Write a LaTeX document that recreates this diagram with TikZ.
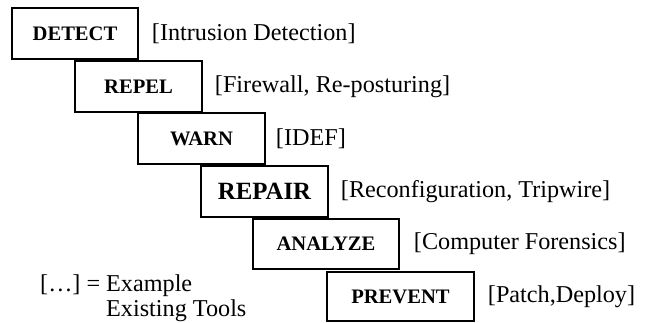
\documentclass[tikz,border=0pt]{standalone}
\usepackage{fontspec}
\setmainfont{Liberation Serif}
\begin{document}
\begin{tikzpicture}[x=1pt,y=-1pt,
  stagebox/.style={draw,line width=1.5pt,inner sep=0pt,
    font=\fontsize{20.6}{24}\selectfont\bfseries},
  toollabel/.style={anchor=west,inner sep=0pt,
    font=\fontsize{24.2}{29}\selectfont},
  legendtext/.style={anchor=base west,inner sep=0pt,
    font=\fontsize{24.2}{29}\selectfont}]
\useasboundingbox (0,0) rectangle (645,322);

% staircase of defence stages
\node[stagebox,minimum width=126pt,minimum height=51pt] (detect)  at (75,33.5)   {DETECT};
\node[stagebox,minimum width=127pt,minimum height=51pt] (repel)   at (138.5,86.5) {REPEL};
\node[stagebox,minimum width=127pt,minimum height=51pt] (warn)    at (201.5,138.5) {WARN};
\node[stagebox,minimum width=127pt,minimum height=51pt,
      font=\fontsize{24.8}{28}\selectfont\bfseries] (repair) at (264.5,191.5) {REPAIR};
\node[stagebox,minimum width=146pt,minimum height=50pt] (analyze) at (326,244)   {ANALYZE};
\node[stagebox,minimum width=147pt,minimum height=49pt] (prevent) at (400.5,296.5) {PREVENT};

% example tools beside each stage
\node[toollabel] (tdetect)  at ([xshift=13pt]detect.east)  {[Intrusion Detection]};
\node[toollabel] (trepel)   at ([xshift=12pt]repel.east)   {[Firewall, Re-posturing]};
\node[toollabel] (twarn)    at ([xshift=10pt]warn.east)    {[IDEF]};
\node[toollabel] (trepair)  at ([xshift=12pt]repair.east)  {[Reconfiguration, Tripwire]};
\node[toollabel] (tanalyze) at ([xshift=14pt]analyze.east) {[Computer Forensics]};
\node[toollabel] (tprevent) at ([xshift=13pt]prevent.east) {[Patch,Deploy]};

% legend
\node[legendtext] (legkey)   at (40,291)  {[…] =};
\node[legendtext] (legline1) at (106,291) {Example};
\node[legendtext] (legline2) at (106,316) {Existing Tools};
\end{tikzpicture}
\end{document}
